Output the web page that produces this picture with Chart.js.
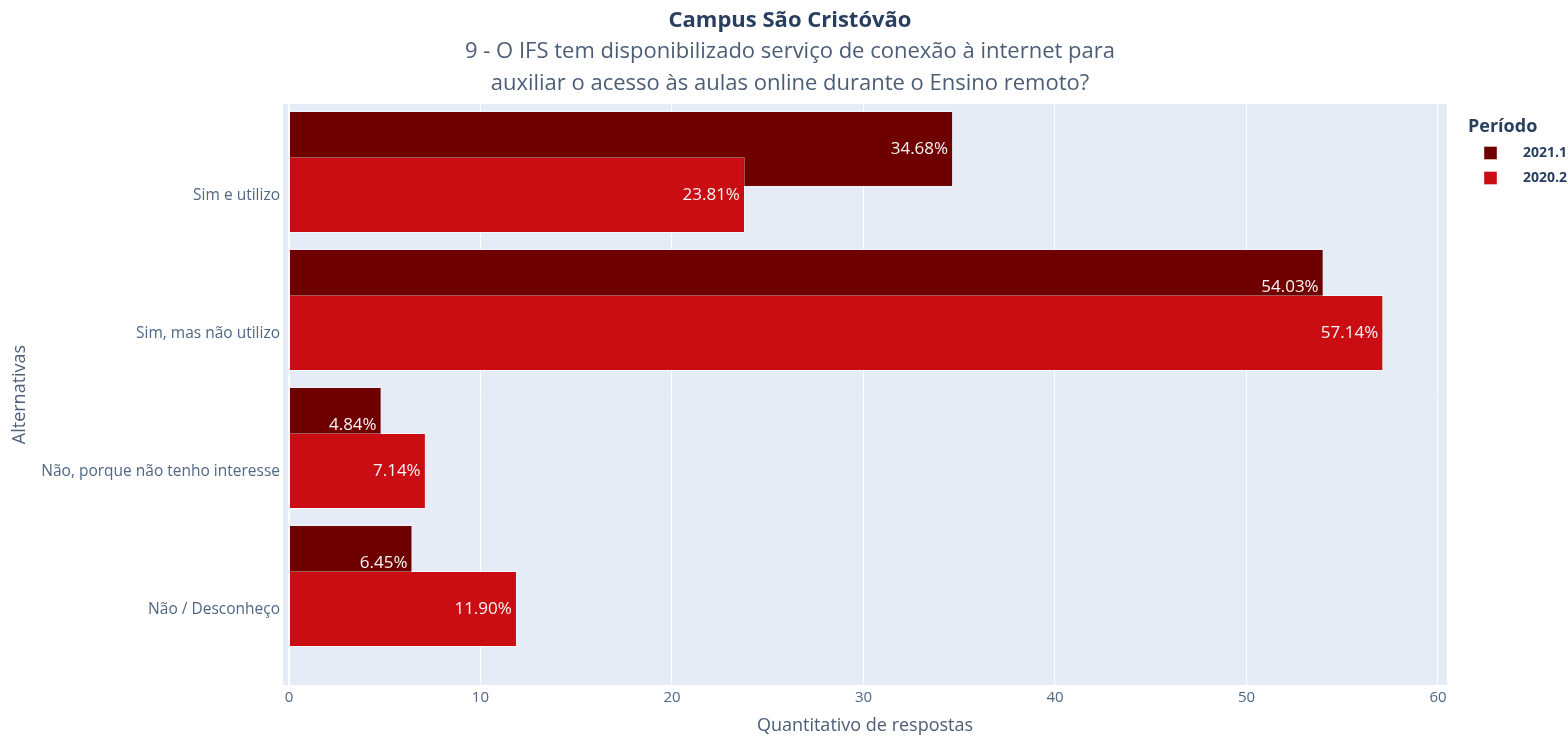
<!DOCTYPE html>
<html lang="pt-BR">
<head>
<meta charset="utf-8">
<title>Campus São Cristóvão</title>
<script src="https://cdn.jsdelivr.net/npm/chart.js@4.4.1/dist/chart.umd.min.js"></script>
<style>
  html, body { margin: 0; padding: 0; background: #ffffff; }
  #chartBox { width: 1568px; height: 737px; position: relative; }
</style>
</head>
<body>
<div id="chartBox"><canvas id="respostasChart"></canvas></div>
<script>
// ---- dados do gráfico ----
const categorias = ['Sim e utilizo', 'Sim, mas não utilizo', 'Não, porque não tenho interesse', 'Não / Desconheço'];
const periodos = ['2021.1', '2020.2'];
const valores20211 = [34.68, 54.03, 4.84, 6.45];
const valores20202 = [23.81, 57.14, 7.14, 11.90];
const xTicks = [0, 10, 20, 30, 40, 50, 60];

const tituloGrafico = 'Campus São Cristóvão';
const subtituloGrafico = [
    '9 - O IFS tem disponibilizado serviço de conexão à internet para',
    'auxiliar o acesso às aulas online durante o Ensino remoto?'
];
const tituloLegenda = 'Período';
const tituloEixoX = 'Quantitativo de respostas';
const tituloEixoY = 'Alternativas';

// ---- estilo ----
const FONTE = "'Open Sans', sans-serif";
const COR_TITULO = '#2a3f5f';
const COR_TEXTO = '#4c5d75';
const COR_TICKS = '#506784';
const COR_FUNDO_PLOT = '#e5ecf6';
const coresPeriodo = ['#6f0000', '#c90d12'];

/**
 * Monta os pontos {x, y} de uma série, com y = índice da categoria.
 */
function pontosSerie(valores) {
    return valores.map((v, i) => ({ x: v, y: i }));
}

/**
 * Pinta o fundo azulado da área do gráfico (estilo plotly).
 */
const fundoPlot = {
    id: 'fundoPlot',
    beforeDraw(chart) {
        const { ctx, chartArea: a } = chart;
        ctx.save();
        ctx.fillStyle = COR_FUNDO_PLOT;
        ctx.fillRect(a.left, a.top, a.right - a.left, a.bottom - a.top);
        ctx.restore();
    }
};

/**
 * O Chart.js desenha o primeiro dataset por cima; no original a série 2020.2
 * fica por cima da 2021.1, então redesenhamos as barras dela no fim.
 */
const sobreposicao = {
    id: 'sobreposicao',
    afterDatasetsDraw(chart) {
        const ctx = chart.ctx;
        const a = chart.chartArea;
        ctx.save();
        ctx.beginPath();
        ctx.rect(a.left, a.top, a.right - a.left, a.bottom - a.top);
        ctx.clip();
        chart.getDatasetMeta(1).data.forEach(bar => bar.draw(ctx, a));
        ctx.restore();
    }
};

/**
 * Rótulos de porcentagem dentro das barras, alinhados no fim da barra.
 */
const rotulosBarras = {
    id: 'rotulosBarras',
    afterDatasetsDraw(chart) {
        const ctx = chart.ctx;
        ctx.save();
        ctx.font = `17px ${FONTE}`;
        ctx.fillStyle = '#f4f4f4';
        ctx.textAlign = 'right';
        ctx.textBaseline = 'middle';
        chart.data.datasets.forEach((ds, di) => {
            chart.getDatasetMeta(di).data.forEach((bar, i) => {
                ctx.fillText(ds.data[i].x.toFixed(2) + '%', bar.x - 5, bar.y);
            });
        });
        ctx.restore();
    }
};

/**
 * Título (negrito) e subtítulo em duas linhas no topo.
 */
const cabecalho = {
    id: 'cabecalho',
    afterDraw(chart) {
        const ctx = chart.ctx;
        const cx = chart.width / 2 + 6;
        ctx.save();
        ctx.textAlign = 'center';
        ctx.textBaseline = 'middle';
        ctx.fillStyle = COR_TITULO;
        ctx.font = `bold 22px ${FONTE}`;
        ctx.fillText(tituloGrafico, cx, 21);
        ctx.fillStyle = COR_TEXTO;
        ctx.font = `22px ${FONTE}`;
        subtituloGrafico.forEach((linha, i) => ctx.fillText(linha, cx, 52 + i * 32));
        ctx.restore();
    }
};

/**
 * Legenda à direita com título "Período".
 */
const legendaPeriodo = {
    id: 'legendaPeriodo',
    afterDraw(chart) {
        const ctx = chart.ctx;
        const x0 = chart.chartArea.right + 21;
        const y0 = chart.chartArea.top + 23;
        ctx.save();
        ctx.fillStyle = COR_TITULO;
        ctx.textAlign = 'left';
        ctx.textBaseline = 'middle';
        ctx.font = `bold 18px ${FONTE}`;
        ctx.fillText(tituloLegenda, x0, y0);
        ctx.font = `bold 14px ${FONTE}`;
        chart.data.datasets.forEach((ds, i) => {
            const y = y0 + 26 + i * 25;
            ctx.fillStyle = ds.backgroundColor;
            ctx.fillRect(x0 + 16, y - 6.5, 13, 13);
            ctx.strokeStyle = 'rgba(255,255,255,0.4)';
            ctx.lineWidth = 1;
            ctx.strokeRect(x0 + 16, y - 6.5, 13, 13);
            ctx.fillStyle = COR_TITULO;
            ctx.fillText(ds.label, x0 + 55, y);
        });
        ctx.restore();
    }
};

function desenharGrafico() {
    const ctx = document.getElementById('respostasChart');

    new Chart(ctx, {
        type: 'bar',
        data: {
            datasets: [
                {
                    label: periodos[0],
                    data: pontosSerie(valores20211),
                    backgroundColor: coresPeriodo[0],
                    borderColor: 'rgba(255,255,255,0.35)',
                    borderWidth: 1,
                    categoryPercentage: 0.6667,
                    barPercentage: 1.652
                },
                {
                    label: periodos[1],
                    data: pontosSerie(valores20202),
                    backgroundColor: coresPeriodo[1],
                    borderColor: 'rgba(255,255,255,0.35)',
                    borderWidth: 1,
                    categoryPercentage: 0.6667,
                    barPercentage: 1.652
                }
            ]
        },
        options: {
            indexAxis: 'y',
            responsive: true,
            maintainAspectRatio: false,
            animation: false,
            layout: { padding: { top: 104, right: 121, left: 0, bottom: 0 } },
            plugins: {
                legend: { display: false },
                title: { display: false },
                tooltip: { enabled: false }
            },
            scales: {
                x: {
                    type: 'linear',
                    min: -0.31,
                    max: 60.47,
                    afterBuildTicks: s => { s.ticks = xTicks.map(v => ({ value: v })); },
                    afterFit: s => { s.height = 52; },
                    grid: {
                        color: '#ffffff',
                        lineWidth: c => (c.tick && c.tick.value === 0 ? 2 : 1),
                        drawTicks: false
                    },
                    border: { display: false },
                    ticks: {
                        padding: 4,
                        color: COR_TICKS,
                        font: { family: FONTE, size: 15 }
                    },
                    title: {
                        display: true,
                        text: tituloEixoX,
                        color: COR_TEXTO,
                        font: { family: FONTE, size: 18 },
                        padding: { top: 0, bottom: 0 }
                    }
                },
                y: {
                    type: 'linear',
                    reverse: true,
                    offset: false,
                    min: -0.493,
                    max: 3.717,
                    afterBuildTicks: s => { s.ticks = categorias.map((c, i) => ({ value: i })); },
                    afterFit: s => { s.width = 283; },
                    grid: { display: false, drawTicks: false },
                    border: { display: false },
                    ticks: {
                        autoSkip: false,
                        padding: 3,
                        labelOffset: 24,
                        color: COR_TICKS,
                        font: { family: FONTE, size: 15.5 },
                        callback: v => categorias[v]
                    },
                    title: {
                        display: true,
                        text: tituloEixoY,
                        color: COR_TEXTO,
                        font: { family: FONTE, size: 18 },
                        padding: { top: 9, bottom: 0 }
                    }
                }
            }
        },
        plugins: [fundoPlot, sobreposicao, rotulosBarras, cabecalho, legendaPeriodo]
    });
}

window.onload = desenharGrafico;
</script>
</body>
</html>
